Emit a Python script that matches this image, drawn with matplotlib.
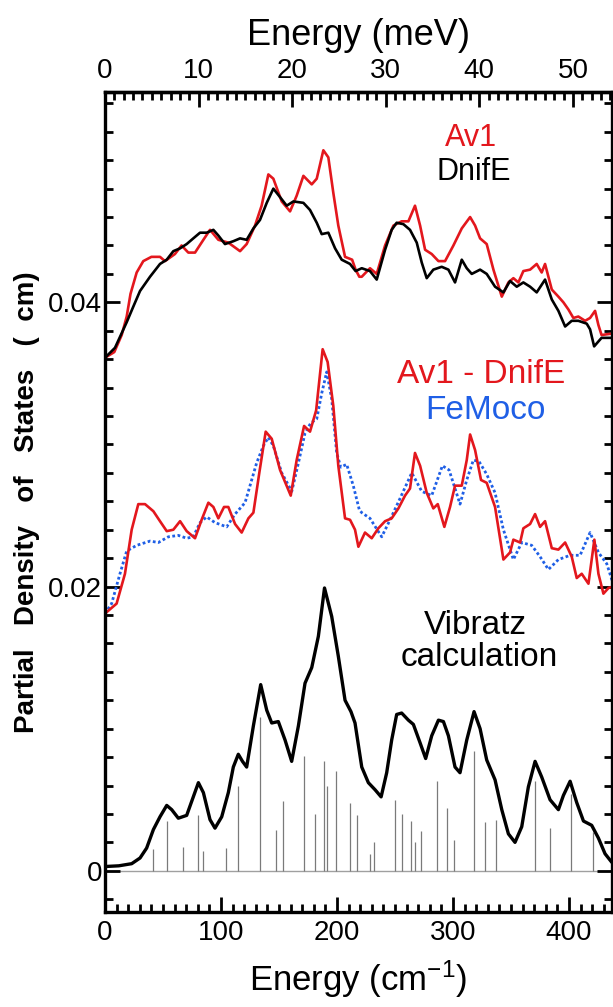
import numpy as np
import matplotlib.pyplot as plt
from matplotlib.ticker import MultipleLocator, FixedLocator, FuncFormatter

plt.rcParams['font.family'] = ['Liberation Sans', 'DejaVu Sans']
plt.rcParams['mathtext.fontset'] = 'custom'
plt.rcParams['mathtext.rm'] = 'Liberation Sans'
plt.rcParams['mathtext.default'] = 'regular'

RED = '#e3171d'
BLUE = '#1f5fe6'

# (energy in cm-1, PVDOS)
av1 = np.array([
    (0, 0.0361), (8, 0.0365), (14.4, 0.0377), (18.7, 0.0390), (22, 0.0406), (27.3, 0.0421),
    (33, 0.0429), (40, 0.0432), (47.4, 0.0432), (51.7, 0.0429), (60.3, 0.0434), (66, 0.0440),
    (71.8, 0.0435), (77.6, 0.0435), (84.8, 0.0444), (90.5, 0.0451), (97.7, 0.0444),
    (106.3, 0.0442), (116.4, 0.0436), (122.1, 0.0441), (129.3, 0.0454), (135, 0.0468),
    (140.8, 0.0490), (145.1, 0.0487), (152.3, 0.0471), (159.5, 0.0464), (165.2, 0.0475),
    (171, 0.0489), (178.2, 0.0483), (182.5, 0.0487), (188.2, 0.0507), (192.5, 0.0502),
    (196.8, 0.0477), (201.1, 0.0454), (206.9, 0.0432), (213, 0.0430), (216, 0.0423),
    (219.2, 0.0418), (221.3, 0.0418), (228.4, 0.0424), (234.2, 0.0420), (241.4, 0.0440),
    (248.6, 0.0454), (255.7, 0.0457), (261.5, 0.0457), (267.2, 0.0468), (271.6, 0.0454),
    (275.9, 0.0437), (281.6, 0.0434), (287.4, 0.0429), (293.1, 0.0429), (300.3, 0.0440),
    (307.5, 0.0452), (314.7, 0.0460), (319, 0.0454), (323.3, 0.0445), (329, 0.0441),
    (334.8, 0.0423), (342, 0.0404), (347.7, 0.0414), (352, 0.0417), (356.3, 0.0414),
    (360.6, 0.0422), (366.4, 0.0423), (372.1, 0.0427), (376.4, 0.0421), (379.3, 0.0427),
    (385.1, 0.0409), (390.8, 0.0404), (395.1, 0.0400), (399.4, 0.0395), (403.7, 0.0389),
    (408, 0.0390), (413.8, 0.0387), (418.1, 0.0389), (422.4, 0.0394), (425.3, 0.0384),
    (428, 0.0377), (437, 0.0378),
])

dnife = np.array([
    (0, 0.0361), (8.6, 0.0368), (18.7, 0.0386), (24.4, 0.0397), (30.2, 0.0408), (38.8, 0.0418),
    (47.4, 0.0427), (53.2, 0.0430), (58.9, 0.0436), (64.7, 0.0438), (70.4, 0.0441),
    (76.1, 0.0445), (81.9, 0.0449), (87.6, 0.0449), (93.4, 0.0451), (97.7, 0.0447),
    (103.4, 0.0441), (110.6, 0.0443), (116.4, 0.0445), (122.1, 0.0444), (127.9, 0.0452),
    (133.6, 0.0458), (139.4, 0.0470), (145.1, 0.0480), (150.9, 0.0474), (156.6, 0.0468),
    (162.4, 0.0471), (171, 0.0470), (176.7, 0.0465), (182.5, 0.0456), (186.8, 0.0448),
    (192.5, 0.0449), (198.3, 0.0438), (204, 0.0430), (211.2, 0.0427), (216, 0.0422),
    (221.3, 0.0424), (228.4, 0.0422), (234.2, 0.0416), (241.4, 0.0437), (247.1, 0.0451),
    (251.4, 0.0456), (257.2, 0.0455), (262.9, 0.0451), (268.7, 0.0442), (273, 0.0428),
    (277.3, 0.0417), (283, 0.0423), (290.2, 0.0425), (296, 0.0423), (301.7, 0.0414),
    (307.5, 0.0430), (311.8, 0.0424), (316.1, 0.0420), (323.3, 0.0423), (329, 0.0420),
    (336.2, 0.0411), (343.4, 0.0407), (349.1, 0.0415), (354.9, 0.0411), (360.6, 0.0414),
    (366.4, 0.0411), (372.1, 0.0407), (379.3, 0.0416), (385.1, 0.0402), (390.8, 0.0394),
    (396.6, 0.0383), (402.3, 0.0387), (408, 0.0387), (415.2, 0.0385), (418.1, 0.0381),
    (421.6, 0.0369), (428, 0.0375), (437, 0.0375),
])

av1_minus_dnife = np.array([
    (0, 0.0181), (10, 0.0188), (17.2, 0.0209), (23, 0.0240), (28.7, 0.0258), (34.5, 0.0258),
    (41.7, 0.0253), (47.4, 0.0246), (53.2, 0.0239), (58.9, 0.0240), (64.7, 0.0246),
    (70.4, 0.0239), (77.6, 0.0234), (83.3, 0.0247), (89.1, 0.0259), (93.4, 0.0256),
    (97.7, 0.0248), (102.6, 0.0256), (106.3, 0.0256), (112.1, 0.0244), (117.8, 0.0238),
    (123.6, 0.0248), (127.9, 0.0252), (133, 0.0280), (138.5, 0.0309), (143.7, 0.0304),
    (150.9, 0.0282), (160.1, 0.0264), (165.2, 0.0289), (171.6, 0.0313), (176.7, 0.0309),
    (182, 0.0324), (187.6, 0.0367), (191.9, 0.0358), (196.8, 0.0327), (201.1, 0.0285),
    (206.9, 0.0248), (211.2, 0.0247), (215.5, 0.0240), (218.4, 0.0228), (224.1, 0.0238),
    (229.9, 0.0234), (235.6, 0.0241), (241.4, 0.0246), (247.1, 0.0248), (252.9, 0.0255),
    (258.6, 0.0264), (262.9, 0.0269), (267.2, 0.0294), (271.6, 0.0285), (277.3, 0.0266),
    (283, 0.0255), (286.8, 0.0258), (292.5, 0.0242), (297.4, 0.0256), (301.7, 0.0271),
    (307.5, 0.0271), (311.8, 0.0289), (314.7, 0.0307), (319, 0.0296), (324.1, 0.0275),
    (329, 0.0273), (336.2, 0.0256), (343.4, 0.0219), (349.1, 0.0224), (352, 0.0233),
    (357.8, 0.0231), (360.6, 0.0241), (366.4, 0.0244), (370.7, 0.0251), (375, 0.0242),
    (379.3, 0.0246), (385.1, 0.0227), (390.8, 0.0226), (396.6, 0.0231), (402.3, 0.0221),
    (406.6, 0.0206), (410.9, 0.0209), (416.7, 0.0202), (421.8, 0.0233), (425.3, 0.0209),
    (429.6, 0.0195), (434, 0.0199), (438, 0.0200),
])

femoco = np.array([
    (0, 0.0181), (5.7, 0.0188), (12.9, 0.0209), (18.7, 0.0225), (27.3, 0.0229), (38.8, 0.0232),
    (46, 0.0231), (54.6, 0.0235), (63.2, 0.0236), (70.4, 0.0234), (76.1, 0.0235),
    (81.9, 0.0245), (87.6, 0.0249), (94.8, 0.0245), (104.9, 0.0242), (112.1, 0.0251),
    (120.7, 0.0259), (125, 0.0271), (130.7, 0.0287), (136.5, 0.0299), (140.8, 0.0305),
    (145.1, 0.0299), (152.3, 0.0280), (161, 0.0267), (166.7, 0.0287), (172.4, 0.0308),
    (177.3, 0.0315), (182.5, 0.0318), (186.8, 0.0336), (191.1, 0.0351), (195.4, 0.0332),
    (199.7, 0.0294), (203.2, 0.0284), (208.3, 0.0286), (214, 0.0271), (219.2, 0.0254),
    (221.3, 0.0252), (228.4, 0.0248), (238.5, 0.0235), (245.7, 0.0247), (254.3, 0.0262),
    (264.4, 0.0280), (273, 0.0267), (281.6, 0.0264), (290.8, 0.0285), (296.6, 0.0282),
    (306, 0.0258), (311.8, 0.0275), (317.5, 0.0289), (322.4, 0.0288), (329, 0.0279),
    (336.2, 0.0266), (343.4, 0.0240), (352, 0.0219), (359.2, 0.0231), (367.8, 0.0229),
    (375, 0.0221), (382.2, 0.0212), (390.8, 0.0219), (400.9, 0.0222), (409.5, 0.0222),
    (418.1, 0.0238), (425.3, 0.0224), (432.5, 0.0216), (438, 0.0202),
])

vibratz = np.array([
    (0, 0.0003), (11.9, 0.00035), (23, 0.0005), (30.2, 0.0009), (35.9, 0.0016), (41.7, 0.0029),
    (47.4, 0.0038), (53.2, 0.0046), (57.5, 0.0043), (63.2, 0.0037), (70.4, 0.0039),
    (76.1, 0.0052), (80.5, 0.0062), (84.8, 0.0055), (90.5, 0.0036), (94.8, 0.0030),
    (100.6, 0.0038), (106.3, 0.0055), (110.6, 0.0073), (114.9, 0.0082), (118.5, 0.0077),
    (122.1, 0.0073), (127.9, 0.0102), (134.2, 0.0131), (139.4, 0.0113), (143.7, 0.0104),
    (149.4, 0.0105), (155.2, 0.0092), (160.9, 0.0077), (166.7, 0.0102), (172.4, 0.0132),
    (178.2, 0.0143), (183.9, 0.0165), (189.2, 0.0199), (195.4, 0.0179), (201.1, 0.0151),
    (206.9, 0.0120), (212, 0.0112), (215.5, 0.0104), (221.3, 0.0073), (227, 0.0062),
    (232.8, 0.0057), (238, 0.0052), (242.8, 0.0069), (247.1, 0.0092), (251.4, 0.0110),
    (255.7, 0.0111), (261.5, 0.0106), (265.8, 0.0103), (271.6, 0.0090), (276.4, 0.0079),
    (281.6, 0.0095), (287.4, 0.0106), (291.7, 0.0105), (296, 0.0095), (301.7, 0.0073),
    (306, 0.0069), (311.8, 0.0092), (318.1, 0.0112), (323.3, 0.0100), (329, 0.0078),
    (336.2, 0.0064), (342, 0.0043), (347.7, 0.0026), (353.4, 0.0020), (359.2, 0.0031),
    (364.9, 0.0059), (370.7, 0.0077), (376.4, 0.0066), (383.6, 0.0050), (390.8, 0.0043),
    (395.1, 0.0053), (400.9, 0.0063), (406.6, 0.0048), (412.4, 0.0035), (419.5, 0.0032),
    (425.3, 0.0023), (431, 0.0012), (436.8, 0.0006),
])

# calculated normal modes (position, stick height)
modes = np.array([
    (41.7, 0.0015), (53.2, 0.0035), (67.5, 0.0017), (80.5, 0.0039), (84.8, 0.0014),
    (104, 0.0016), (114.9, 0.0060), (133.9, 0.0108), (147.1, 0.0029), (153.2, 0.0049),
    (171.8, 0.0081), (180.7, 0.0040), (188.5, 0.0077), (191.4, 0.0060), (199.1, 0.0070),
    (210.9, 0.0048), (216.9, 0.0039), (228.4, 0.0012), (232.2, 0.0020), (250, 0.0050),
    (255.7, 0.0040), (263.8, 0.0035), (267.2, 0.0020), (272.4, 0.0028), (286.5, 0.0063),
    (295.1, 0.0044), (300.9, 0.0022), (318.1, 0.0084), (327.6, 0.0034), (337.4, 0.0036),
    (370.7, 0.0063), (383.2, 0.0030), (401.5, 0.0054), (420.2, 0.0027),
])

mev_ticks = [0, 10, 20, 30, 40, 50]
CM_PER_MEV = 8.0655

fig = plt.figure(figsize=(6.13, 10.07), dpi=100)
ax = fig.add_axes([105 / 613, 1 - 912 / 1007, 507 / 613, 820 / 1007])

ax.axhline(0, color='#a0a0a0', lw=1.0, zorder=1)
ax.vlines(modes[:, 0], 0, modes[:, 1], color='#7a7a7a', lw=0.9, zorder=1)

ax.plot(av1[:, 0], av1[:, 1], color=RED, lw=1.9)
ax.plot(dnife[:, 0], dnife[:, 1], color='black', lw=1.9)
ax.plot(femoco[:, 0], femoco[:, 1], color=BLUE, lw=2.0, ls=(0, (1, 0.9)))
ax.plot(av1_minus_dnife[:, 0], av1_minus_dnife[:, 1], color=RED, lw=1.9)
ax.plot(vibratz[:, 0], vibratz[:, 1], color='black', lw=2.4,
        solid_joinstyle='round', solid_capstyle='round')

ax.set_xlim(0, 437)
ax.set_ylim(-0.0029, 0.0548)

ax.xaxis.set_major_locator(MultipleLocator(100))
ax.xaxis.set_minor_locator(MultipleLocator(10))
ax.yaxis.set_major_locator(FixedLocator([0, 0.02, 0.04]))
ax.yaxis.set_minor_locator(MultipleLocator(0.002))
ax.yaxis.set_major_formatter(FuncFormatter(lambda v, p: '0' if abs(v) < 1e-9 else f'{v:.2f}'))

ax.tick_params(which='both', direction='in', top=False, right=True, width=2, labelsize=20)
ax.tick_params(which='major', length=11)
ax.tick_params(which='minor', length=6)
ax.tick_params(axis='x', pad=6)
ax.tick_params(axis='y', pad=2)
for s in ax.spines.values():
    s.set_linewidth(2.4)

sec = ax.secondary_xaxis('top', functions=(lambda c: c / CM_PER_MEV, lambda m: m * CM_PER_MEV))
sec.xaxis.set_major_locator(FixedLocator(mev_ticks))
sec.xaxis.set_minor_locator(FixedLocator(np.arange(0, 55, 1)))
sec.tick_params(which='both', direction='in', width=2, labelsize=20, pad=6)
sec.tick_params(which='major', length=11)
sec.tick_params(which='minor', length=6)
sec.spines['top'].set_linewidth(2.4)
sec.set_xlabel('Energy (meV)', fontsize=26, labelpad=9)

ax.set_xlabel('Energy (cm$^{-1}$)', fontsize=25, labelpad=9)
ax.set_ylabel('Partial   Density   of   States   (  cm)', fontsize=20, fontweight='bold', labelpad=6)

ax.text(0.722, 0.944, 'Av1', color=RED, fontsize=22, ha='center', va='center', transform=ax.transAxes)
ax.text(0.728, 0.902, 'DnifE', color='black', fontsize=22, ha='center', va='center', transform=ax.transAxes)
ax.text(0.742, 0.655, 'Av1 - DnifE', color=RED, fontsize=24, ha='center', va='center', transform=ax.transAxes)
ax.text(0.750, 0.612, 'FeMoco', color=BLUE, fontsize=24, ha='center', va='center', transform=ax.transAxes)
ax.text(0.731, 0.350, 'Vibratz', color='black', fontsize=24, ha='center', va='center', transform=ax.transAxes)
ax.text(0.738, 0.310, 'calculation', color='black', fontsize=24, ha='center', va='center', transform=ax.transAxes)

fig.savefig('out.png', dpi=100)
